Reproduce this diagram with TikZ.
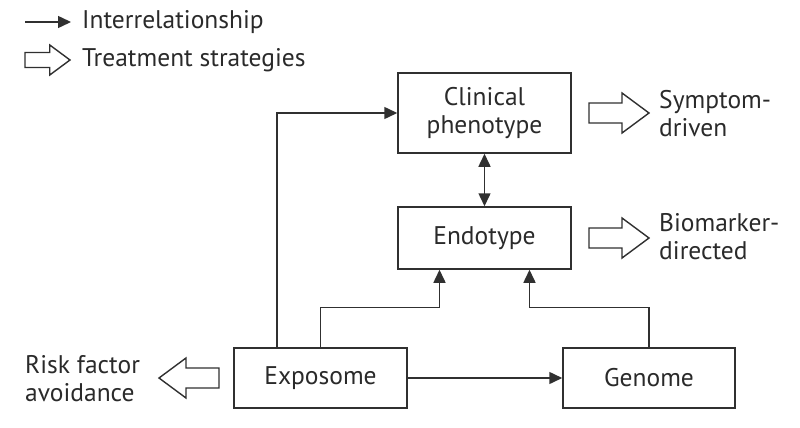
\documentclass[tikz,border=0pt]{standalone}
\usepackage{fontspec}
\setmainfont{PT Sans}
\usetikzlibrary{arrows.meta}
\definecolor{ln}{HTML}{303030}
\definecolor{tx}{HTML}{2A2A2A}
\tikzset{
  box/.style={draw=ln, line width=1.5pt, minimum width=173pt, inner sep=0pt, align=center, text=tx, font=\fontsize{25.5pt}{28pt}\selectfont},
  lbl/.style={inner sep=0pt, align=left, text=tx, font=\fontsize{25.5pt}{28pt}\selectfont},
  arr/.style={draw=ln, line width=1.5pt, -{Triangle[length=13pt,width=12pt]}},
  darr/.style={draw=ln, line width=1.5pt, {Triangle[length=13pt,width=12pt]}-{Triangle[length=13pt,width=12pt]}},
  hollow/.style={draw=ln, line width=1.4pt, fill=white, line join=miter},
  pics/hollowR/.style={code={\draw[hollow] (0,-10) -- (33,-10) -- (33,-20) -- (60,0) -- (33,20) -- (33,10) -- (0,10) -- cycle;}}
}
\begin{document}
\begin{tikzpicture}[x=1pt,y=-1pt]
\useasboundingbox (0,0) rectangle (800,428);
% legend
\coordinate (la1) at (25,22);
\coordinate (la2) at (71,22);
\draw[arr] (la1) -- (la2);
\node[lbl, anchor=west] (lt1) at (82,22) {Interrelationship};
\pic[scale=0.75] at (25,60) {hollowR};
\node[lbl, anchor=west] (lt2) at (82,60) {Treatment strategies};
% boxes
\node[box, minimum height=80pt] (clin) at (484.5,113) {Clinical\\phenotype};
\node[box, minimum height=62pt] (endo) at (484.5,238) {Endotype};
\node[box, minimum height=60pt] (expo) at (320.5,378) {Exposome};
\node[box, minimum height=60pt, minimum width=172pt] (geno) at (649,378) {Genome};
% treatment arrows
\pic at (589,113) {hollowR};
\pic at (589,238) {hollowR};
\pic[xscale=-1] at (219,378) {hollowR};
\node[lbl, anchor=west] (t1) at (659,113.5) {Symptom-\\driven};
\node[lbl, anchor=west] (t2) at (659,236.5) {Biomarker-\\directed};
\node[lbl, anchor=west] (t3) at (25,379) {Risk factor\\avoidance};
% connectors
\draw[arr] ([xshift=-43.5pt]expo.north) |- (clin.west);
\draw[arr] (expo.north) -- ++(0,-40) -| ([xshift=-45pt]endo.south);
\draw[arr] (geno.north) -- ++(0,-40) -| ([xshift=45pt]endo.south);
\draw[darr] (clin.south) -- (endo.north);
\draw[arr] (expo.east) -- (geno.west);
\end{tikzpicture}
\end{document}
